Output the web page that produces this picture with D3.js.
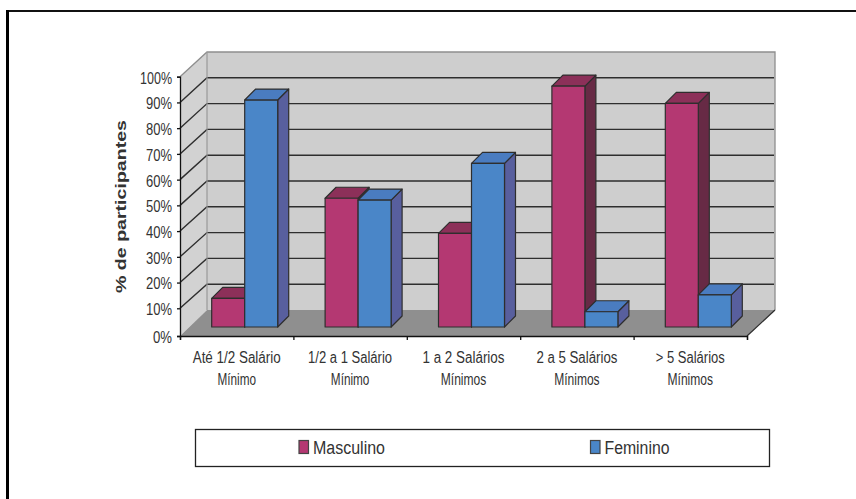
<!DOCTYPE html>
<html>
<head>
<meta charset="utf-8">
<script src="https://cdn.jsdelivr.net/npm/d3@7/dist/d3.min.js"></script>
<style>
html,body{margin:0;padding:0;background:#fff}
svg{display:block}
text{font-family:"Liberation Sans",Arial,sans-serif;fill:#333}
</style>
</head>
<body>
<svg id="chart" width="856" height="499"></svg>
<script>
const categories = [
  ["Até 1/2 Salário", "Mínimo"],
  ["1/2 a 1 Salário", "Mínimo"],
  ["1 a 2 Salários", "Mínimos"],
  ["2 a 5 Salários", "Mínimos"],
  ["> 5 Salários", "Mínimos"]
];
const masculino = [11.1, 49.8, 36.2, 93.2, 86.5];
const feminino = [87.8, 49.1, 63.3, 5.9, 12.4];
const yTicks = [0, 10, 20, 30, 40, 50, 60, 70, 80, 90, 100];
const seriesNames = ["Masculino", "Feminino"];
const faceColours = [
  {front: "#b43872", top: "#8c3059", side: "#672a45"},
  {front: "#4a86c8", top: "#4a7cc0", side: "#585f9e"}
];
// Condensed text widths, in pixels
const firstLineWidths = [88, 84, 82, 81, 69];
const tickLabelWidth = d => d === 100 ? 32 : d === 0 ? 19 : 26;

const svg = d3.select("#chart");
const ink = "#2e2e2e";

// Front edge of the left wall (the first interval is slightly taller),
// the back wall, and the plane the bars stand on.
const y = d3.scaleLinear().domain([0, 10, 100]).range([336, 308.3, 76.7]);
const yBack = d3.scaleLinear().domain([0, 100]).range([310, 52]);
const yBar = d3.scaleLinear().domain([0, 100]).range([327, 68.5]);

const plotLeft = 180, plotRight = 747;
const depthX = 27, backRight = 775;
const barDepth = 11, barWidth = 33, barStart = 31.7;

const x = d3.scaleBand().domain(d3.range(categories.length)).range([plotLeft, plotRight]);
const poly = pts => pts.map(p => p.join(",")).join(" ");
const backLeft = plotLeft + depthX;

// Page rule along the top and left edges
svg.append("line").attr("x1", 6).attr("x2", 856).attr("y1", 11).attr("y2", 11)
  .attr("stroke", "#111").attr("stroke-width", 2);
svg.append("line").attr("x1", 7.5).attr("x2", 7.5).attr("y1", 10).attr("y2", 499)
  .attr("stroke", "#000").attr("stroke-width", 3);

// Walls and floor
const wall = svg.append("g");
wall.append("polygon")
  .attr("points", poly([[backLeft, yBack(100)], [backRight, yBack(100)], [backRight, yBack(0)], [backLeft, yBack(0)]]))
  .attr("fill", "#cecece");
wall.append("polygon")
  .attr("points", poly([[plotLeft, y(100)], [backLeft, yBack(100)], [backLeft, yBack(0)], [plotLeft, y(0)]]))
  .attr("fill", "#d2d2d2");
wall.append("polygon")
  .attr("points", poly([[plotLeft, y(0)], [backLeft, yBack(0)], [backRight, yBack(0)], [plotRight, y(0)]]))
  .attr("fill", "#8f8f8f");

// Gridlines on both walls
const grid = svg.append("g").attr("fill", "none").attr("stroke", ink).attr("stroke-width", 1.4);
yTicks.slice(1, -1).forEach(t => {
  grid.append("polyline").attr("points", poly([[plotLeft, y(t)], [backLeft, yBack(t)], [backRight - 1, yBack(t)]]));
});
svg.append("polyline")
  .attr("points", poly([[plotLeft, y(100)], [backLeft, yBack(100)], [backRight, yBack(100)], [backRight, yBack(0)]]))
  .attr("fill", "none").attr("stroke", "#8e8e8e").attr("stroke-width", 1.3);
svg.append("line").attr("x1", backLeft).attr("x2", backLeft)
  .attr("y1", yBack(100)).attr("y2", yBack(0))
  .attr("stroke", "#999").attr("stroke-width", 1.2);

// Floor front-right edge
svg.append("line").attr("x1", plotRight).attr("y1", y(0)).attr("x2", backRight).attr("y2", yBack(0))
  .attr("stroke", ink).attr("stroke-width", 1.2);

// Value axis and category axis
const yAxis = svg.append("g").attr("transform", `translate(${plotLeft},0)`)
  .call(d3.axisLeft(y).tickValues(yTicks).tickFormat(d => d + "%").tickSize(3).tickPadding(5));
yAxis.selectAll("path,line").attr("stroke", "#111").attr("stroke-width", 1.3);
yAxis.selectAll("text").attr("font-size", 16).attr("dy", "0.4em")
  .attr("textLength", tickLabelWidth).attr("lengthAdjust", "spacingAndGlyphs").attr("fill", "#333");

const xAxis = svg.append("g").attr("transform", `translate(0,${y(0)})`)
  .call(d3.axisBottom(d3.scaleLinear().domain([0, categories.length]).range([plotLeft, plotRight]))
    .ticks(categories.length).tickFormat("").tickSize(4).tickSizeOuter(4));
xAxis.selectAll("path,line").attr("stroke", "#111").attr("stroke-width", 1.3);

// Clustered bars, drawn left to right so that the neighbour covers the side face
categories.forEach((c, i) => {
  [masculino[i], feminino[i]].forEach((v, s) => {
    const x0 = x(i) + barStart + s * barWidth;
    const x1 = x0 + barWidth;
    const yb = yBar(0);
    const yt = yBar(v);
    const col = faceColours[s];
    const g = svg.append("g").attr("stroke", ink).attr("stroke-width", 1.2).attr("stroke-linejoin", "round");
    g.append("polygon").attr("fill", col.side)
      .attr("points", poly([[x1, yt], [x1 + barDepth, yt - barDepth], [x1 + barDepth, yb - barDepth], [x1, yb]]));
    g.append("polygon").attr("fill", col.top)
      .attr("points", poly([[x0, yt], [x0 + barDepth, yt - barDepth], [x1 + barDepth, yt - barDepth], [x1, yt]]));
    g.append("rect").attr("fill", col.front)
      .attr("x", x0).attr("y", yt).attr("width", barWidth).attr("height", yb - yt);
  });
});

// Category labels
const labels = svg.append("g").attr("text-anchor", "middle").attr("font-size", 16);
categories.forEach((c, i) => {
  const cx = x(i) + x.bandwidth() / 2;
  labels.append("text").attr("x", cx).attr("y", 362.5).text(c[0])
    .attr("textLength", firstLineWidths[i]).attr("lengthAdjust", "spacingAndGlyphs");
  labels.append("text").attr("x", cx).attr("y", 385).text(c[1])
    .attr("textLength", c[1].length > 6 ? 45.5 : 38.5).attr("lengthAdjust", "spacingAndGlyphs");
});

// Value axis title
svg.append("text").attr("transform", "translate(126,206.5) rotate(-90)")
  .attr("text-anchor", "middle").attr("font-size", 15.5).attr("font-weight", "bold").attr("fill", "#222")
  .attr("textLength", 173).attr("lengthAdjust", "spacingAndGlyphs")
  .text("% de participantes");

// Legend
svg.append("rect").attr("x", 195.5).attr("y", 429.5).attr("width", 574).attr("height", 37)
  .attr("fill", "#fff").attr("stroke", "#222").attr("stroke-width", 1.3);
const legendX = d3.scaleOrdinal().domain(seriesNames).range([299, 590.5]);
seriesNames.forEach((n, s) => {
  svg.append("rect").attr("x", legendX(n)).attr("y", 440.5).attr("width", 9.5).attr("height", 13)
    .attr("fill", faceColours[s].front).attr("stroke", "#444").attr("stroke-width", 1.2);
  svg.append("text").attr("x", legendX(n) + 14).attr("y", 453.5).attr("font-size", 18)
    .attr("textLength", s === 0 ? 72 : 65).attr("lengthAdjust", "spacingAndGlyphs").text(n);
});
</script>
</body>
</html>
